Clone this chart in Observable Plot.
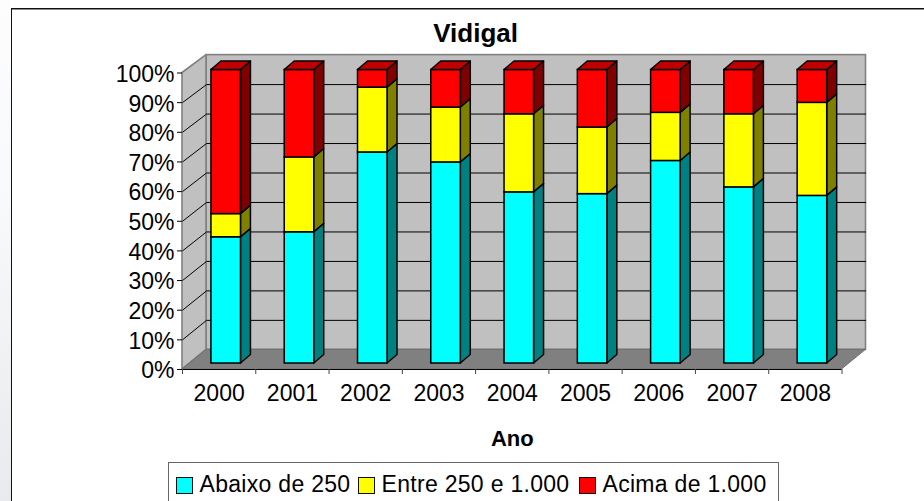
<!DOCTYPE html>
<html lang="pt">
<head>
<meta charset="utf-8">
<script src="https://cdn.jsdelivr.net/npm/d3@7"></script>
<script src="https://cdn.jsdelivr.net/npm/@observablehq/plot@0.6"></script>
<style>
html,body{margin:0;padding:0;background:#fff;width:924px;height:501px;overflow:hidden;font-family:"Liberation Sans",Arial,sans-serif}
#strip{position:absolute;left:0;top:0;width:11px;height:501px;background:linear-gradient(#fdfdfe 0%,#f8f9fb 40%,#f3f4f6 60%,#e8eaed 100%)}
#frame{position:absolute;left:11px;top:8px;right:-2px;bottom:-2px;border-top:1px solid #111;border-left:1px solid #111;box-shadow:inset 0 1px 0 #888}
#chart{position:absolute;left:0;top:0}
#chart svg{background:transparent}
#legend{position:absolute;left:168px;top:462px;width:609px;height:50px;border:1px solid #666;background:#fff;color:#000;font-size:23px;line-height:1;letter-spacing:.3px}
.item{position:absolute;top:10px;display:flex;align-items:center;white-space:nowrap}
.sw{width:15px;height:15px;border:1.5px solid #111;margin-right:6.5px;display:inline-block;flex:none;position:relative;top:1px}
</style>
</head>
<body>
<div id="strip"></div>
<div id="frame"></div>
<div id="chart"></div>
<div id="legend"></div>
<script>
const title = "Vidigal";
const xLabel = "Ano";
const years = ["2000","2001","2002","2003","2004","2005","2006","2007","2008"];
const seriesNames = ["Abaixo de 250","Entre 250 e 1.000","Acima de 1.000"];
const frontColors = ["#00ffff","#ffff00","#ff0000"];
const sideColors = ["#008080","#808000","#800000"];
const topColor = "#c00000";
const abaixo = [43,44.7,71.9,68.5,58.3,57.7,69,60,57.1];
const entre = [7.9,25.5,22.1,18.7,26.6,22.7,16.4,24.9,31.7];
const acima = [49.1,29.8,6,12.8,15.1,19.6,14.6,15.1,11.2];
const legendLeft = [7,189,410];

// Pseudo-3D depth, in scale units
const wallDx = 0.3275, wallY = v => 6.63 + 0.994 * v;
const barX = i => i + 0.395, barW = 0.403, barDx = 0.136, barDy = 2.86;
const barY = v => 2.02 + 0.99 * v;

const series = [abaixo, entre, acima];
const fronts = [], sides = [], tops = [];
years.forEach((yr, i) => {
  let base = 0;
  series.forEach((vals, s) => {
    const next = s === 2 ? 100 : base + vals[i];
    const x1 = barX(i), x2 = x1 + barW, y1 = barY(base), y2 = barY(next);
    fronts.push({x1, x2, y1, y2, fill: frontColors[s]});
    const id = yr + "-" + s;
    sides.push({id, x: x2, y1, y2, fill: sideColors[s]});
    sides.push({id, x: x2 + barDx, y1: y1 + barDy, y2: y2 + barDy, fill: sideColors[s]});
    if (s === 2) {
      tops.push({id, y: y2, x1, x2});
      tops.push({id, y: y2 + barDy, x1: x1 + barDx, x2: x2 + barDx});
    }
    base = next;
  });
});

const grid = d3.range(10, 100, 10);
const n = years.length;
const wallFill = "#c0c0c0", wallEdge = "#808080";
const fs = 23;

const plot = Plot.plot({
  width: 924, height: 501,
  marginLeft: 182, marginRight: 82.5, marginTop: 72.5, marginBottom: 132,
  style: {fontFamily: '"Liberation Sans",Arial,sans-serif', color: "#000", background: "transparent", overflow: "visible"},
  x: {domain: [0, n]},
  y: {domain: [0, 100]},
  color: {type: "identity"},
  marks: [
    // back wall
    Plot.rect([0], {x1: wallDx, x2: n + wallDx, y1: wallY(0), y2: wallY(100), fill: wallFill, stroke: wallEdge, strokeWidth: 1.6}),
    // left wall
    Plot.areaY([{x: 0, y1: 0, y2: 100}, {x: wallDx, y1: wallY(0), y2: wallY(100)}], {x: "x", y1: "y1", y2: "y2", fill: wallFill, stroke: wallEdge, strokeWidth: 1.6}),
    // floor
    Plot.areaX([{y: 0, x1: 0, x2: n}, {y: wallY(0), x1: wallDx, x2: n + wallDx}], {y: "y", x1: "x1", x2: "x2", fill: "#808080", stroke: "#6e6e6e", strokeWidth: 1}),
    // gridlines
    Plot.link(grid, {x1: wallDx, x2: n + wallDx, y1: d => wallY(d), y2: d => wallY(d), stroke: "#000", strokeWidth: 1}),
    Plot.link(grid, {x1: 0, x2: wallDx, y1: d => d, y2: d => wallY(d), stroke: "#000", strokeWidth: 1}),
    // front baseline
    Plot.ruleY([0], {stroke: "#000", strokeWidth: 1.2}),
    // bars
    Plot.areaY(sides, {x: "x", y1: "y1", y2: "y2", z: "id", fill: "fill", stroke: "#000", strokeWidth: 1.5}),
    Plot.rect(fronts, {x1: "x1", x2: "x2", y1: "y1", y2: "y2", fill: "fill", stroke: "#000", strokeWidth: 1.5}),
    Plot.areaX(tops, {y: "y", x1: "x1", x2: "x2", z: "id", fill: topColor, stroke: "#000", strokeWidth: 1.5}),
    // axes
    Plot.axisY({ticks: d3.range(0, 101, 10), tickFormat: () => "", tickSize: 5, label: null}),
    Plot.axisY({ticks: d3.range(0, 101, 10), tickFormat: d => d + "%", tickSize: 0, tickPadding: 8, dy: 1.5, fontSize: fs, label: null}),
    Plot.axisX({ticks: d3.range(0, n + 1), tickFormat: () => "", tickSize: 5, stroke: "#444", label: null}),
    Plot.axisX({ticks: d3.range(0.5, n), tickFormat: d => years[d - 0.5], tickSize: 0, tickPadding: 15.5, fontSize: fs, label: null}),
    // title and axis label
    Plot.text([title], {x: 4, y: 100, dy: -39.5, fontWeight: "bold", fontSize: 26, fill: "#000"}),
    Plot.text([xLabel], {x: n / 2, y: 0, dy: 69, fontWeight: "bold", fontSize: 22, fill: "#000"})
  ]
});
document.getElementById("chart").append(plot);

const legend = document.getElementById("legend");
seriesNames.forEach((name, i) => {
  const item = document.createElement("div");
  item.className = "item";
  item.style.left = legendLeft[i] + "px";
  const sw = document.createElement("span");
  sw.className = "sw";
  sw.style.background = frontColors[i];
  item.append(sw, document.createTextNode(name));
  legend.append(item);
});
</script>
</body>
</html>
